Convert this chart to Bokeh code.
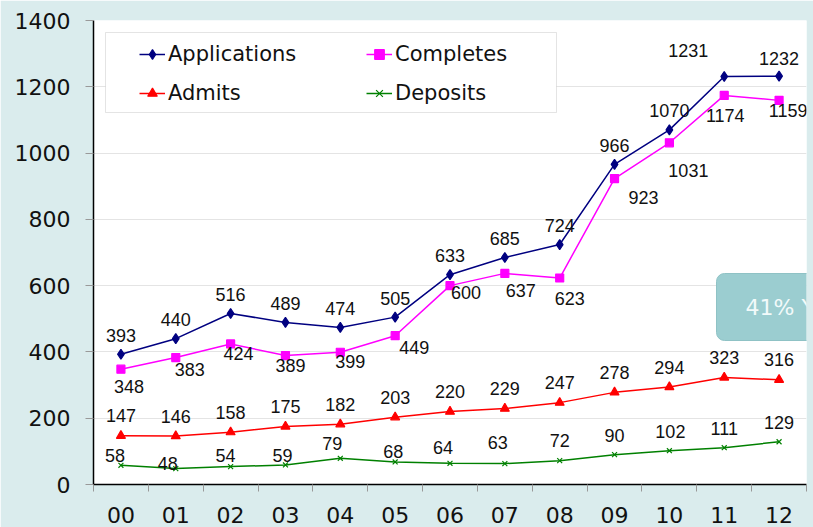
from bokeh.plotting import figure
from bokeh.models import (FixedTicker, Legend, LegendItem, BoxAnnotation, Label, LabelSet,
                          ColumnDataSource, Range1d)
from bokeh.embed import file_html
from bokeh.resources import INLINE
from bokeh.core.properties import value

# ---------------- data ----------------
years = ["00", "01", "02", "03", "04", "05", "06", "07", "08", "09", "10", "11", "12"]
applications = [393, 440, 516, 489, 474, 505, 633, 685, 724, 966, 1070, 1231, 1232]
completes = [348, 383, 424, 389, 399, 449, 600, 637, 623, 923, 1031, 1174, 1159]
admits = [147, 146, 158, 175, 182, 203, 220, 229, 247, 278, 294, 323, 316]
deposits = [58, 48, 54, 59, 79, 68, 64, 63, 72, 90, 102, 111, 129]
y_ticks = [0, 200, 400, 600, 800, 1000, 1200, 1400]

# label offsets (screen px, negative = up; style only)
app_dx = [0, 0, 0, 0, 0, 0, 0, 0, 0, 0, 0, -36, 0]
app_dy = [-19, -19, -19, -19, -19, -19, -19, -19, -19, -19, -19, -26, -18]
com_dx = [8, 14, 8, 5, 10, 19, 16, 16, 10, 29, 19, 1, 9]
com_dy = [17, 12, 10, 10, 9, 12, 7, 17, 20, 19, 28, 20, 10]
adm_dx = [0] * 13
adm_dy = [-20] * 13
dep_dx = [-6, -8, -5, -3, -8, -2, -7, -7, 0, 0, 1, 0, 0]
dep_dy = [-10, -5, -11, -9, -15, -10, -16, -21, -20, -19, -19, -19, -19]

# ---------------- geometry ----------------
W, H = 813, 531
FL, FR, FT, FB = 93, 806, 20, 484
n = len(years)
xs = [i + 0.5 for i in range(n)]
YMAX = y_ticks[-1]

def px2x(px):
    return (px - FL) / (FR - FL) * n

def px2y(py):
    return (FB - py) / (FB - FT) * YMAX

BG = "#daeced"
TEXT = "#111111"

p = figure(width=W, height=H, output_backend="svg", toolbar_location=None,
           x_range=Range1d(0, n), y_range=Range1d(0, YMAX),
           min_border_left=FL, min_border_right=W - FR,
           min_border_top=FT, min_border_bottom=H - FB)
p.border_fill_color = BG
p.background_fill_color = "white"
p.outline_line_color = None

# axes
p.xaxis.ticker = FixedTicker(ticks=xs, minor_ticks=list(range(n + 1)))
p.xaxis.major_label_overrides = {x: y for x, y in zip(xs, years)}
p.xaxis.major_tick_line_color = None
p.xaxis.major_tick_out = 7
p.xaxis.major_tick_in = 0
p.xaxis.minor_tick_line_color = "#999999"
p.xaxis.minor_tick_out = 7
p.xaxis.minor_tick_in = 0
p.xaxis.major_label_standoff = 15
p.xaxis.axis_line_color = "black"
p.xaxis.axis_line_width = 1.5

p.yaxis.ticker = FixedTicker(ticks=y_ticks, minor_ticks=[])
p.yaxis.major_tick_line_color = "#999999"
p.yaxis.major_tick_out = 8
p.yaxis.major_tick_in = 0
p.yaxis.minor_tick_line_color = None
p.yaxis.major_label_standoff = 15
p.yaxis.axis_line_color = "black"
p.yaxis.axis_line_width = 1.5

for ax in (p.xaxis, p.yaxis):
    ax.major_label_text_font = "DejaVu Sans"
    ax.major_label_text_font_size = "22px"
    ax.major_label_text_color = TEXT

p.xgrid.grid_line_color = None
p.ygrid.ticker = FixedTicker(ticks=y_ticks)
p.ygrid.grid_line_color = "#e4e4e4"
p.ygrid.grid_line_width = 1

# series
series = [
    ("Applications", applications, "#000080", "diamond", 10, app_dx, app_dy),
    ("Completes", completes, "#ff00ff", "square", 8, com_dx, com_dy),
    ("Admits", admits, "#ff0000", "triangle", 9, adm_dx, adm_dy),
    ("Deposits", deposits, "#008000", "x", 7, dep_dx, dep_dy),
]

items = {}
label_sets = []
for name, vals, color, marker, size, dx, dy in series:
    src = ColumnDataSource(dict(x=xs, y=vals, t=[str(v) for v in vals],
                                dx=dx, dy=[-d for d in dy]))
    ln = p.line("x", "y", source=src, line_color=color, line_width=1.5)
    sc = p.scatter("x", "y", source=src, marker=marker, size=size,
                   fill_color=color, line_color=color, line_width=1.2)
    label_sets.append(LabelSet(x="x", y="y", text="t", source=src,
                               x_offset="dx", y_offset="dy",
                               text_align=value("center"), text_baseline=value("middle"),
                               text_font=value("Liberation Sans"),
                               text_font_size=value("18px"),
                               text_color=value(TEXT)))
    items[name] = LegendItem(label=name, renderers=[ln, sc])

# data labels
for ls in label_sets:
    p.add_layout(ls)

# legend frame
box = BoxAnnotation(left=px2x(105), right=px2x(556), top=px2y(32), bottom=px2y(112),
                    fill_color="white", fill_alpha=1.0,
                    line_color="#a6a6a6", line_width=1, level="annotation")
p.add_layout(box)

legend = Legend(items=[items["Applications"], items["Admits"],
                       items["Completes"], items["Deposits"]],
                orientation="vertical", ncols=2,
                location=(46, 379),
                border_line_color=None, background_fill_alpha=0,
                padding=6, spacing=15, margin=0,
                glyph_width=26, glyph_height=24, label_height=24,
                label_width=183, label_standoff=3,
                label_text_font="DejaVu Sans", label_text_font_size="21px",
                label_text_color=TEXT)
p.add_layout(legend)

# callout
callout = Label(x=px2x(716), y=px2y(273), text="41% YoY",
                anchor="top_left",
                text_font="DejaVu Sans", text_font_size="22px",
                text_color="#f2fafa",
                background_fill_color="#9bcdd0", background_fill_alpha=1.0,
                border_line_color="#8fc2c5",
                padding=dict(left=29, right=40, top=21, bottom=21),
                border_radius=8)
p.add_layout(callout)

html = file_html(p, INLINE)
html = html.replace("<body>", '<body style="margin:0;overflow:hidden;background:%s">' % BG, 1)
open("out.html", "w").write(html)
